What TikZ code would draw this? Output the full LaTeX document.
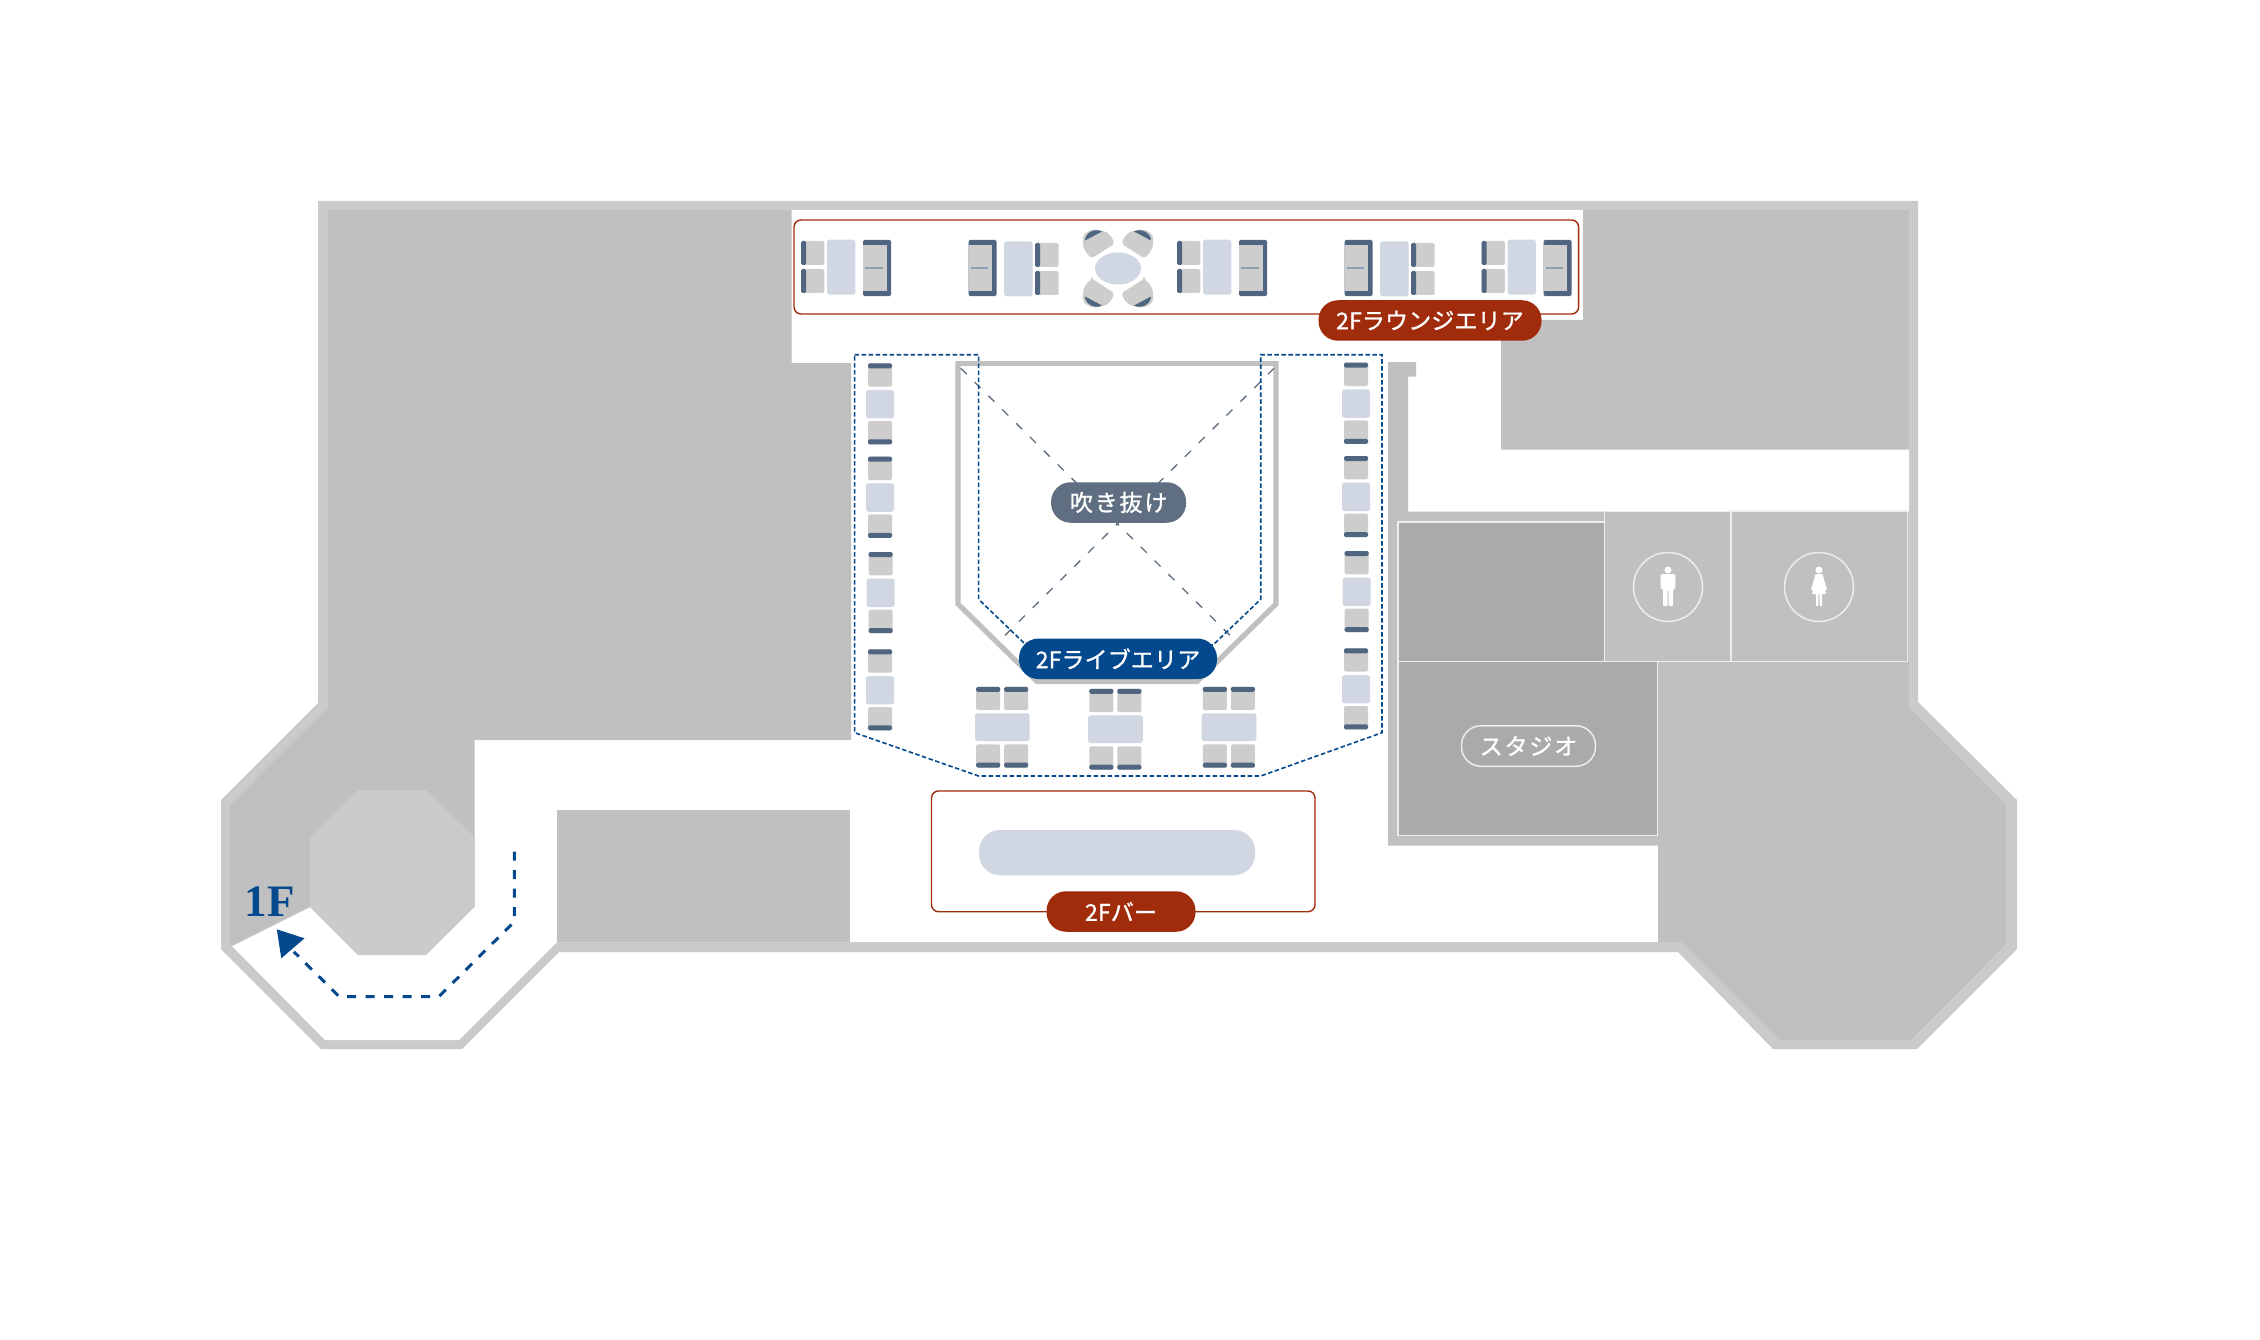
\documentclass[tikz,border=0pt]{standalone}
\usepackage{fontspec}
\newfontfamily\cjk[LetterSpace=0.6,FakeBold=1.1]{Noto Sans CJK JP}
\newfontfamily\cjkwide[LetterSpace=8,FakeBold=1.1]{Noto Sans CJK JP}
\newfontfamily\floorfont{Liberation Serif}
\definecolor{wallc}{HTML}{CACACA}
\definecolor{massc}{HTML}{C0C0C0}
\definecolor{roomc}{HTML}{AAAAAA}
\definecolor{deskc}{HTML}{D0D7E2}
\definecolor{seatc}{HTML}{CDCDCD}
\definecolor{navyc}{HTML}{4F6580}
\definecolor{linec}{HTML}{8DA0B4}
\definecolor{redc}{HTML}{A12C0C}
\definecolor{bluec}{HTML}{04488D}
\definecolor{slatec}{HTML}{5F6E80}
\tikzstyle{wall}=[fill=wallc]
\tikzstyle{mass}=[fill=massc]
\tikzstyle{room}=[draw=white!93!black, line width=1.5, fill=roomc]
\tikzstyle{wc}=[draw=white!93!black, line width=1.5, fill=massc]
\tikzstyle{desk}=[fill=deskc, rounded corners=2.5]
\tikzstyle{seat}=[fill=seatc, rounded corners=1.5]
\tikzstyle{band}=[fill=navyc, rounded corners=1.5]
\tikzstyle{areabox}=[draw=redc, line width=1.4, rounded corners=7]
\tikzstyle{zonedash}=[draw=bluec, line width=1.6, dash pattern=on 4.5 off 2.5]
\tikzstyle{voidwall}=[draw=massc, line width=5.2, miter limit=10]
\tikzstyle{voidcross}=[draw=slatec, line width=1.3, dash pattern=on 8.5 off 11]
\tikzstyle{route}=[draw=bluec, line width=3, dash pattern=on 9 off 9.5]
\tikzstyle{pill}=[inner sep=0, text=white, font=\cjk\fontsize{23}{23}\selectfont, rounded corners=19.5, minimum height=40.5]
\tikzstyle{widepill}=[pill, font=\cjkwide\fontsize{23}{23}\selectfont]
\tikzstyle{wcsign}=[circle, draw=white!93!black, line width=1.5, inner sep=0, minimum size=69]
\tikzset{
    chair/.pic={
        \path [seat] (-12,-11.7) rectangle (12,11.7);
        \path [band] (-12,-11.7) rectangle (12,-6.7);
    },
    sofa/.pic={
        \path [band] (-14,-28.2) rectangle (14,28.2);
        \fill [seatc] (-14,-23.2) rectangle (9.7,23.2);
        \draw [linec, line width=1.3] (-11.7,0) -- (5.7,0);
    },
    loungeset/.pic={
        \pic {sofa};
        \path [desk] (-50,-28.3) rectangle (-21.7,26.7);
        \pic [rotate=90] at (-64.3,-15) {chair};
        \pic [rotate=90] at (-64.3,13) {chair};
    },
    colset/.pic={
        \path [desk] (-14,-14.2) rectangle (14,14.2);
        \pic at (0,-29.2) {chair};
        \pic [rotate=180] at (0,28.5) {chair};
    },
    rowset/.pic={
        \path [desk] (-27.3,-13.9) rectangle (27.3,13.9);
        \foreach \dx in {-14.1,13.9} {
            \pic at (\dx,-28.7) {chair};
            \pic [rotate=180] at (\dx,28.8) {chair};
        }
    },
    roundchair/.pic={
        \path [fill=seatc, rounded corners=2] (-26,-10.3) -- (-3.7,-24.7) .. controls (-6,-32) and (-10,-36) .. (-15,-37.3) .. controls (-26,-41) and (-36,-36) .. (-35,-26.3) .. controls (-35,-20) and (-31,-14) .. (-26,-10.3) -- cycle;
        \fill [navyc] (-33,-28) .. controls (-33,-35) and (-24,-41) .. (-16,-37) -- cycle;
    },
    man/.pic={
        \fill [white] (0,-17) circle (3.5);
        \fill [white, rounded corners=1] (-7.3,-12.8) -- (7.3,-12.8) -- (7.3,2) -- (5,2) -- (5,19) -- (0.5,19) -- (0.5,3) -- (-0.5,3) -- (-0.5,19) -- (-5,19) -- (-5,2) -- (-7.3,2) -- cycle;
    },
    woman/.pic={
        \fill [white] (0,-17) circle (3.5);
        \fill [white, rounded corners=0.7] (-3.5,-12.8) -- (3.5,-12.8) -- (8,3) -- (6.5,3.5) -- (4.5,-4) -- (7,7) -- (3,7) -- (3,19) -- (0.6,19) -- (0.6,7) -- (-0.6,7) -- (-0.6,19) -- (-3,19) -- (-3,7) -- (-7,7) -- (-4.5,-4) -- (-6.5,3.5) -- (-8,3) -- cycle;
    }
}

\begin{document}
\begin{tikzpicture}[x=1pt, y=-1pt]
    \useasboundingbox (0,0) rectangle (2260,1340);
    % building shell
    \path [wall] (318,201) -- (1918,201) -- (1918,702) -- (2017,800) -- (2017,949) -- (1917,1049) -- (1773,1049) -- (1678,952) -- (559,952) -- (462,1049) -- (321,1049) -- (221,949) -- (221,800) -- (318,703) -- cycle;
    \fill [white] (328,210) -- (1909,210) -- (1909,707) -- (2006,803) -- (2006,945) -- (1912,1040) -- (1778,1040) -- (1680,942) -- (557,942) -- (459,1040) -- (325,1040) -- (232,946) -- (230,946) -- (230,804) -- (328,707) -- cycle;
    % grey blocks
    \path [mass] (328,210) -- (791.5,210) -- (791.5,363) -- (851,363) -- (851,740) -- (474.5,740) -- (474.5,907) -- (310,907) -- (232,946) -- (230,946) -- (230,804) -- (328,707) -- cycle;
    \path [wall] (358,790) -- (426,790) -- (474.5,837) -- (474.5,907) -- (426,955) -- (358,955) -- (310,907) -- (310,838) -- cycle;
    \path [mass] (557,810) rectangle (850.4,942);
    \path [mass] (1583,210) -- (1909,210) -- (1909,449.5) -- (1501,449.5) -- (1501,320) -- (1583,320) -- cycle;
    \path [mass] (1388,362) -- (1416,362) -- (1416,376.5) -- (1408,376.5) -- (1408,511.5) -- (1909,511.5) -- (1909,707) -- (2006,803) -- (2006,945) -- (1912,1040) -- (1778,1040) -- (1680,942) -- (1658,942) -- (1658,845.5) -- (1388,845.5) -- cycle;
    % rooms
    \draw [room] (1398,522) rectangle (1604.5,661.6);
    \draw [room] (1398,661.6) rectangle (1657.6,835.5);
    \draw [wc] (1604.5,511.5) rectangle (1731,661.6);
    \draw [wc] (1731,511) rectangle (1907.6,661.6);
    \node [wcsign] (mensign) at (1668,587) {};
    \node [wcsign] (womensign) at (1819,587) {};
    \pic at (mensign) {man};
    \pic at (womensign) {woman};
    \node [widepill, draw=white!93!black, line width=1.5, minimum width=134] (studio) at (1528.5,746) {スタジオ};
    % lounge
    \draw [areabox] (794,220) rectangle (1578.6,314);
    \foreach \x in {877,1253,1557.5}
        \pic at (\x,268) {loungeset};
    \foreach \x in {982.5,1358.5}
        \pic [rotate=180] at (\x,268) {loungeset};
    \fill [deskc] (1118,268.5) ellipse (23 and 16);
    \pic at (1118,268.5) {roundchair};
    \pic [xscale=-1] at (1118,268.5) {roundchair};
    \pic [yscale=-1] at (1118,268.5) {roundchair};
    \pic [xscale=-1, yscale=-1] at (1118,268.5) {roundchair};
    % void
    \draw [voidwall] (958,363.6) -- (1276,363.6) -- (1276,604) -- (1197,681.5) -- (1037,681.5) -- (958,604) -- cycle;
    \draw [voidcross] (960.7,368.3) -- (1235.7,641);
    \draw [voidcross] (1274,368.3) -- (999.3,641);
    \draw [zonedash] (854.6,354.7) -- (978.6,354.7) -- (978.6,599.3) -- (1024,643) -- (1213,645) -- (1260.7,599.3) -- (1260.7,354.7) -- (1382,354.7) -- (1382,732.7) -- (1260.7,776) -- (978.6,776) -- (854.6,732.7) -- cycle;
    % live seats
    \foreach \x/\y in {880/404.2, 880/497.6, 880.7/592.9, 880/690.2, 1356/403.6, 1356/496.9, 1356.7/591.9, 1356/689.2}
        \pic at (\x,\y) {colset};
    \foreach \x/\y in {1002.3/727.2, 1115.5/729.2, 1229/727.2}
        \pic at (\x,\y) {rowset};
    % bar
    \draw [areabox] (931.5,791) rectangle (1315,911.7);
    \path [desk, rounded corners=21] (979,830) rectangle (1255,875.3);
    % labels
    \node [pill, fill=redc, minimum width=223] (lounge) at (1430,320.5) {2Fラウンジエリア};
    \node [widepill, fill=slatec, minimum width=135] (void) at (1118.6,502.5) {吹き抜け};
    \node [pill, fill=bluec, minimum width=198] (live) at (1118,658.8) {2Fライブエリア};
    \node [pill, fill=redc, minimum width=149] (bar) at (1121,911.5) {2Fバー};
    \node [inner sep=0, text=bluec, font=\floorfont\bfseries\fontsize{45}{45}\selectfont] (floor) at (269.5,901.5) {1F};
    % route to 1F
    \coordinate (routestart) at (514.3,851.7);
    \coordinate (routeend) at (293.8,951.7);
    \draw [route] (routestart) -- (514.3,921.7) -- (438.8,996.7) -- (339.3,996.7) -- (routeend);
    \fill [bluec] (276.8,929.3) -- (281.3,958.3) -- (304.5,938.3) -- cycle;
\end{tikzpicture}
\end{document}
